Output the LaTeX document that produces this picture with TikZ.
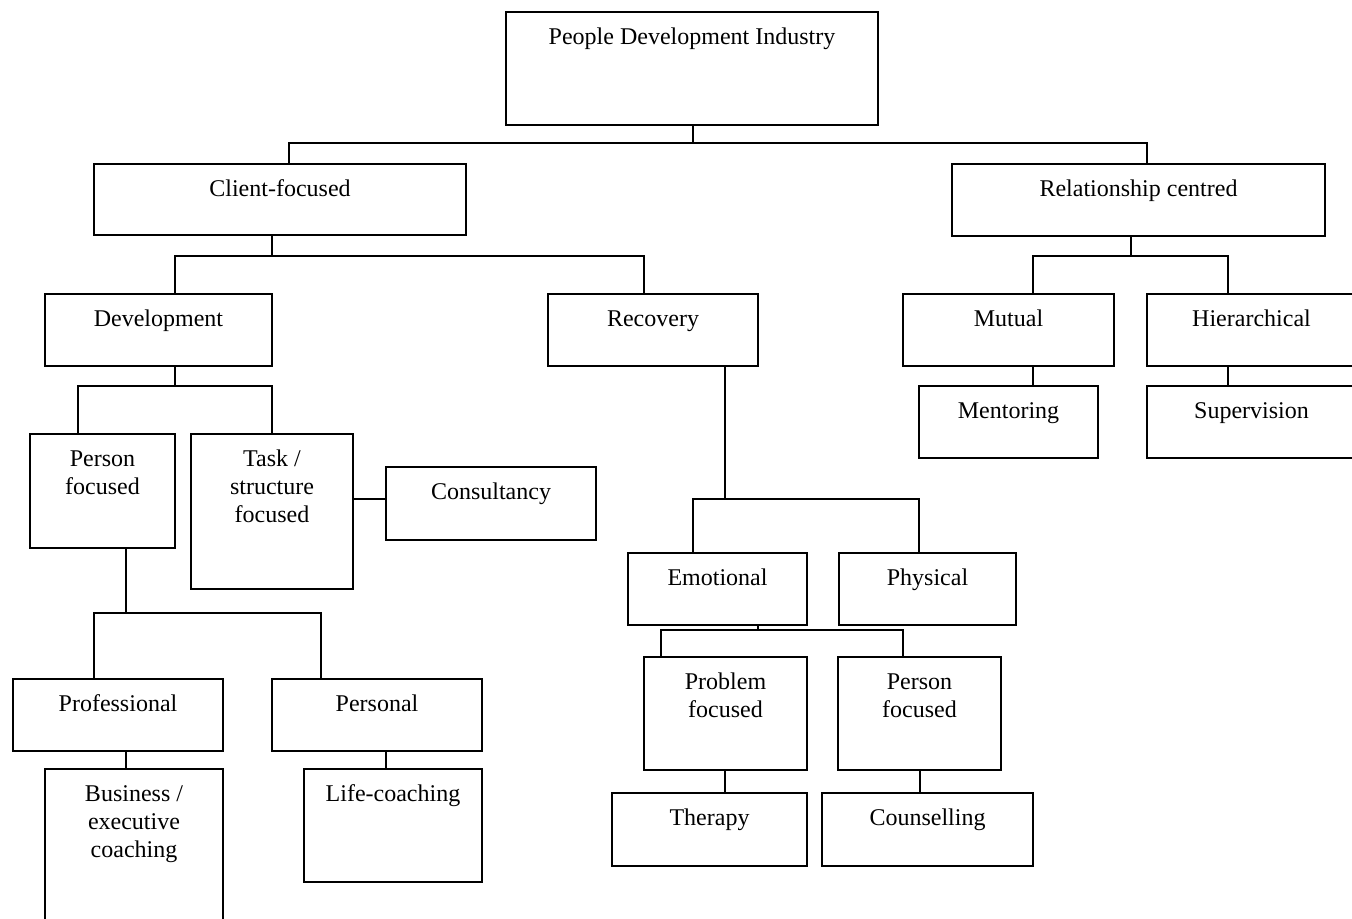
\documentclass[tikz,border=0pt]{standalone}
\usepackage{fontspec}
\setmainfont{Liberation Serif}
\usetikzlibrary{fit}
\tikzset{
  box/.style={draw=black, line width=0.6pt, inner sep=0pt, fit={#1}},
  lbl/.style={anchor=north, inner sep=0pt, align=center, font=\fontsize{12}{14}\selectfont},
  conn/.style={draw=black, line width=0.9pt},
}
\newcommand{\bx}[6]{%
  \node[box={(#2,#3) (#4,#5)}] (#1) {};
  \node[lbl] (#1-t) at ([yshift=-7.5pt]#1.north) {\rule{0pt}{9pt}#6};
}
\begin{document}
\begin{tikzpicture}[x=0.5pt,y=-0.5pt]
\useasboundingbox (0,0) rectangle (1352,919);
\clip (0,0) rectangle (1352,919);
\bx{pdi}{506}{12}{878}{125}{People Development Industry}
\bx{cf}{94}{164}{466}{235}{Client-focused}
\bx{rc}{952}{164}{1325}{236}{Relationship centred}
\bx{dev}{45}{294}{272}{366}{Development}
\bx{rec}{548}{294}{758}{366}{Recovery}
\bx{mut}{903}{294}{1114}{366}{Mutual}
\bx{hier}{1147}{294}{1356}{366}{Hierarchical}
\bx{ment}{919}{386}{1098}{458}{Mentoring}
\bx{sup}{1147}{386}{1356}{458}{Supervision}
\bx{pf}{30}{434}{175}{548}{Person\\focused}
\bx{task}{191}{434}{353}{589}{Task /\\structure\\focused}
\bx{cons}{386}{467}{596}{540}{Consultancy}
\bx{emo}{628}{553}{807}{625}{Emotional}
\bx{phys}{839}{553}{1016}{625}{Physical}
\bx{prob}{644}{657}{807}{770}{Problem\\focused}
\bx{pfb}{838}{657}{1001}{770}{Person\\focused}
\bx{ther}{612}{793}{807}{866}{Therapy}
\bx{coun}{822}{793}{1033}{866}{Counselling}
\bx{prof}{13}{679}{223}{751}{Professional}
\bx{pers}{272}{679}{482}{751}{Personal}
\bx{bus}{45}{769}{223}{930}{Business /\\executive\\coaching}
\bx{life}{304}{769}{482}{882}{Life-coaching}
% connectors
\draw[conn] (pdi.south -| 693,0) -- (693,143);
\draw[conn] (cf.north -| 289,0) -- (289,143) -- (1147,143) -- (rc.north -| 1147,0);
\draw[conn] (cf.south -| 272,0) -- (272,256);
\draw[conn] (dev.north -| 175,0) -- (175,256) -- (644,256) -- (rec.north -| 644,0);
\draw[conn] (rc.south -| 1131,0) -- (1131,256);
\draw[conn] (mut.north -| 1033,0) -- (1033,256) -- (1228,256) -- (hier.north -| 1228,0);
\draw[conn] (mut.south -| 1033,0) -- (ment.north -| 1033,0);
\draw[conn] (hier.south -| 1228,0) -- (sup.north -| 1228,0);
\draw[conn] (dev.south -| 175,0) -- (175,386);
\draw[conn] (pf.north -| 78,0) -- (78,386) -- (272,386) -- (task.north -| 272,0);
\draw[conn] (task.east |- 0,499) -- (cons.west |- 0,499);
\draw[conn] (pf.south -| 126,0) -- (126,613);
\draw[conn] (prof.north -| 94,0) -- (94,613) -- (321,613) -- (pers.north -| 321,0);
\draw[conn] (prof.south -| 126,0) -- (bus.north -| 126,0);
\draw[conn] (pers.south -| 386,0) -- (life.north -| 386,0);
\draw[conn] (rec.south -| 725,0) -- (725,499);
\draw[conn] (emo.north -| 693,0) -- (693,499) -- (919,499) -- (phys.north -| 919,0);
\draw[conn] (emo.south -| 758,0) -- (758,630);
\draw[conn] (prob.north -| 661,0) -- (661,630) -- (903,630) -- (pfb.north -| 903,0);
\draw[conn] (prob.south -| 725,0) -- (ther.north -| 725,0);
\draw[conn] (pfb.south -| 920,0) -- (coun.north -| 920,0);
\end{tikzpicture}
\end{document}
